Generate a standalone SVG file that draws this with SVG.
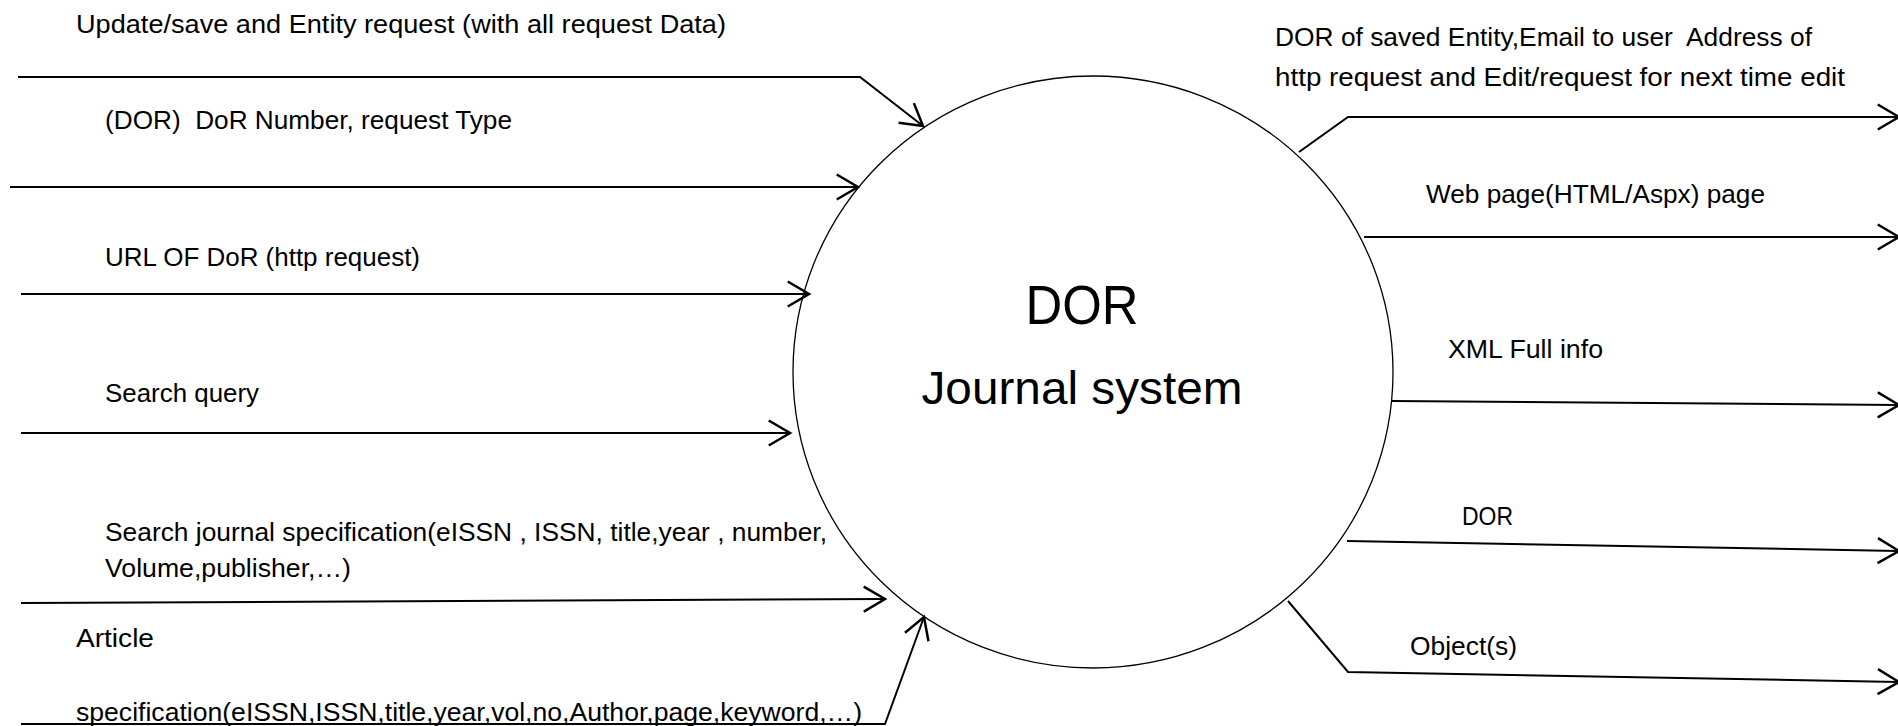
<svg xmlns="http://www.w3.org/2000/svg" width="1898" height="726" viewBox="0 0 1898 726">
  <style>
    .lbl { font-family: "Liberation Sans", Arial, sans-serif; font-size: 26.5px; fill: #000; }
    .title { font-family: "Liberation Sans", Arial, sans-serif; fill: #000; text-anchor: middle; }
    .flow { fill: none; stroke: #000; stroke-width: 2; stroke-linejoin: miter; marker-end: url(#open); }
  </style>
  <defs>
    <marker id="open" markerUnits="userSpaceOnUse" markerWidth="30" markerHeight="30" viewBox="-20 -12 24 24" refX="0" refY="0" orient="auto" overflow="visible">
      <path d="M-17,-10 L0,0 L-17,10" fill="none" stroke="#000" stroke-width="2"/>
    </marker>
  </defs>

  <rect width="1898" height="726" fill="#fff"/>

  <!-- central process -->
  <g id="dor-journal-system">
    <ellipse cx="1093" cy="372" rx="300" ry="296" fill="#fff" stroke="#000" stroke-width="1.3"/>
    <text class="title" x="1082" y="324" font-size="56" textLength="113" lengthAdjust="spacingAndGlyphs">DOR</text>
    <text class="title" x="1082" y="404" font-size="47" textLength="321" lengthAdjust="spacingAndGlyphs">Journal system</text>
  </g>

  <!-- data flows -->
  <g id="connectors">
    <path class="flow" d="M18,77 H860 L923,126"/>
    <path class="flow" d="M10,187 H858"/>
    <path class="flow" d="M21,294 H809"/>
    <path class="flow" d="M21,433 H790"/>
    <path class="flow" d="M21,603 L885,599"/>
    <path class="flow" d="M21,724 H885 L924,617"/>

    <path class="flow" d="M1299,152 L1348,117 H1899"/>
    <path class="flow" d="M1364,237 H1899"/>
    <path class="flow" d="M1392,401 L1899,405"/>
    <path class="flow" d="M1347,541 L1899,551"/>
    <path class="flow" d="M1288,601 L1348,672 L1899,682"/>
  </g>

  <!-- incoming flow labels -->
  <g id="in-update-save">
    <text class="lbl" x="76" y="33" textLength="650" lengthAdjust="spacingAndGlyphs">Update/save and Entity request (with all request Data)</text>
  </g>
  <g id="in-dor-number">
    <text class="lbl" x="105" y="129" textLength="407" lengthAdjust="spacingAndGlyphs" xml:space="preserve">(DOR)  DoR Number, request Type</text>
  </g>
  <g id="in-url">
    <text class="lbl" x="105" y="266" textLength="315" lengthAdjust="spacingAndGlyphs">URL OF DoR (http request)</text>
  </g>
  <g id="in-search-query">
    <text class="lbl" x="105" y="402" textLength="154" lengthAdjust="spacingAndGlyphs">Search query</text>
  </g>
  <g id="in-journal-spec">
    <text class="lbl" x="105" y="541" textLength="722" lengthAdjust="spacingAndGlyphs">Search journal specification(eISSN , ISSN, title,year , number,</text>
    <text class="lbl" x="105" y="577" textLength="246" lengthAdjust="spacingAndGlyphs">Volume,publisher,…)</text>
  </g>
  <g id="in-article-spec">
    <text class="lbl" x="76" y="647" textLength="78" lengthAdjust="spacingAndGlyphs">Article</text>
    <text class="lbl" x="76" y="721" textLength="786" lengthAdjust="spacingAndGlyphs">specification(eISSN,ISSN,title,year,vol,no,Author,page,keyword,…)</text>
  </g>

  <!-- outgoing flow labels -->
  <g id="out-saved-entity">
    <text class="lbl" x="1275" y="46" textLength="537" lengthAdjust="spacingAndGlyphs" xml:space="preserve">DOR of saved Entity,Email to user  Address of</text>
    <text class="lbl" x="1275" y="86" textLength="570" lengthAdjust="spacingAndGlyphs">http request and Edit/request for next time edit</text>
  </g>
  <g id="out-web-page">
    <text class="lbl" x="1426" y="203" textLength="339" lengthAdjust="spacingAndGlyphs">Web page(HTML/Aspx) page</text>
  </g>
  <g id="out-xml">
    <text class="lbl" x="1448" y="358" textLength="155" lengthAdjust="spacingAndGlyphs">XML Full info</text>
  </g>
  <g id="out-dor">
    <text class="lbl" x="1462" y="525" textLength="51" lengthAdjust="spacingAndGlyphs">DOR</text>
  </g>
  <g id="out-objects">
    <text class="lbl" x="1410" y="655" textLength="107" lengthAdjust="spacingAndGlyphs">Object(s)</text>
  </g>
</svg>
